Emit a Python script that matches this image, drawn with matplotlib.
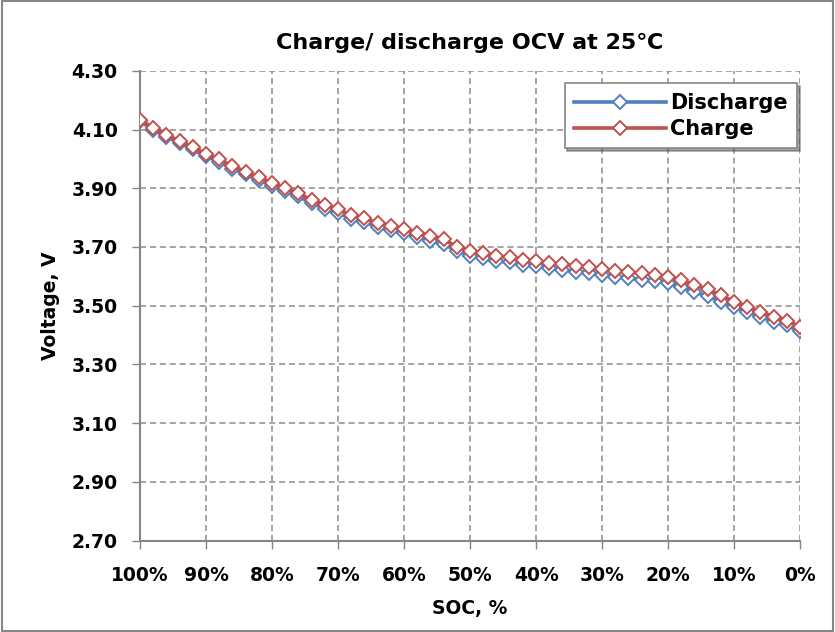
import numpy as np
import matplotlib.pyplot as plt
from matplotlib.patches import Rectangle

# SOC in 2% steps, 100% down to 0%
soc = np.arange(100, -1, -2)

charge = [4.132, 4.106, 4.081, 4.062, 4.039, 4.017, 3.999, 3.976, 3.957, 3.937,
          3.919, 3.900, 3.883, 3.860, 3.843, 3.828, 3.809, 3.798, 3.781, 3.771,
          3.760, 3.749, 3.737, 3.726, 3.701, 3.687, 3.678, 3.669, 3.665, 3.657,
          3.653, 3.646, 3.642, 3.635, 3.631, 3.625, 3.619, 3.615, 3.610, 3.606,
          3.599, 3.587, 3.570, 3.556, 3.536, 3.514, 3.497, 3.480, 3.463, 3.449, 3.429]

discharge = [4.128, 4.100, 4.075, 4.055, 4.032, 4.009, 3.990, 3.967, 3.948, 3.927,
             3.909, 3.889, 3.872, 3.849, 3.831, 3.816, 3.797, 3.785, 3.768, 3.757,
             3.746, 3.735, 3.722, 3.710, 3.686, 3.671, 3.661, 3.652, 3.648, 3.640,
             3.635, 3.628, 3.623, 3.616, 3.612, 3.605, 3.599, 3.594, 3.589, 3.585,
             3.576, 3.563, 3.547, 3.532, 3.513, 3.494, 3.479, 3.462, 3.446, 3.433, 3.413]

x_ticks = np.arange(100, -1, -10)
x_ticklabels = [f"{v}%" for v in x_ticks]
y_ticks = np.arange(2.70, 4.31, 0.20)

plt.rcParams['font.family'] = ['DejaVu Sans']
plt.rcParams['font.weight'] = 'bold'

fig = plt.figure(figsize=(8.35, 6.32), dpi=100)
ax = fig.add_axes([0.1677, 0.1445, 0.7905, 0.7435])

ax.plot(soc, discharge, color='#4F81BD', lw=2.6, marker='D', ms=7.5,
        mfc='white', mec='#4F81BD', mew=1.4, label='Discharge', zorder=3)
ax.plot(soc, charge, color='#C0504D', lw=2.6, marker='D', ms=7.5,
        mfc='white', mec='#C0504D', mew=1.4, label='Charge', zorder=4)

ax.set_xlim(100, 0)
ax.set_ylim(2.70, 4.30)
ax.set_xticks(x_ticks)
ax.set_xticklabels(x_ticklabels)
ax.set_yticks(y_ticks)
ax.set_yticklabels([f"{v:.2f}" for v in y_ticks])

ax.grid(True, color='#8C8C8C', linestyle=(0, (4, 2.5)), linewidth=1.1)
ax.set_axisbelow(True)
for s in ['top', 'right']:
    ax.spines[s].set_visible(False)
for s in ['left', 'bottom']:
    ax.spines[s].set_color('#868686')
    ax.spines[s].set_linewidth(1.5)

ax.tick_params(axis='both', labelsize=13.5, colors='#868686', labelcolor='black',
               length=6, width=1)
ax.tick_params(axis='x', pad=12)
ax.tick_params(axis='y', pad=10)

ax.set_xlabel('SOC, %', fontsize=13.5, fontweight='bold', labelpad=10)
ax.set_ylabel('Voltage, V', fontsize=13.5, fontweight='bold', labelpad=8)
ax.set_title('Charge/ discharge OCV at 25\u2103', fontsize=16, fontweight='bold', pad=16)

leg = ax.legend(loc='upper right', bbox_to_anchor=(0.995, 0.973),
                prop={'weight': 'bold', 'size': 15}, frameon=True, shadow=True,
                fancybox=False, handlelength=4.4, handletextpad=0.2,
                borderpad=0.45, labelspacing=0.3, borderaxespad=0)
leg.get_frame().set_edgecolor('#868686')
leg.get_frame().set_linewidth(1.2)

# chart area border
fig.patches.append(Rectangle((0.002, 0.002), 0.996, 0.996, transform=fig.transFigure,
                             fill=False, edgecolor='#868686', linewidth=1.5))

fig.savefig('out.png', dpi=100)
